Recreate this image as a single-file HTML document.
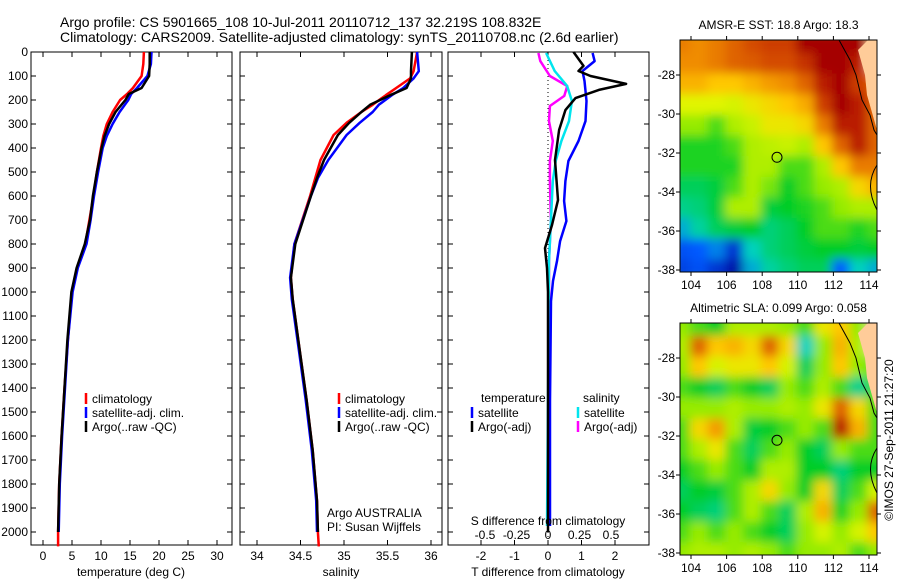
<!DOCTYPE html>
<html><head><meta charset="utf-8"><style>
html,body{margin:0;padding:0;background:#fff;}
svg{display:block;font-family:"Liberation Sans",sans-serif;}
</style></head><body>
<svg id="c" width="900" height="580" xmlns="http://www.w3.org/2000/svg">
<defs>
<filter id="bl1" x="0" y="0" width="1" height="1"><feGaussianBlur stdDeviation="5"/></filter>
<clipPath id="cm1"><rect x="680" y="40" width="197" height="232"/></clipPath>
<clipPath id="cm2"><rect x="680" y="323" width="197" height="232"/></clipPath>
</defs>
<text x="60" y="27" font-size="14">Argo profile: CS 5901665_108 10-Jul-2011 20110712_137 32.219S 108.832E</text>
<text x="60" y="42" font-size="14">Climatology: CARS2009. Satellite-adjusted climatology: synTS_20110708.nc (2.6d earlier)</text>
<g id="g"></g>
</svg>
<script>
// ---------- data ----------
const depthGrid=[0,50,100,150,175,200,250,300,350,400,500,600,700,800,900,1000,1200,1400,1600,1800,2000,2060];
const tempClim=[17.4,17.3,17.0,15.5,14.5,13.3,12.0,11.0,10.4,10.0,9.3,8.7,8.0,7.3,5.9,5.0,4.3,3.7,3.2,2.8,2.6,2.6];
const tempSat=[18.7,18.6,18.0,16.2,15.2,14.7,13.2,12.0,11.0,10.3,9.5,8.8,8.2,7.5,6.0,5.1,4.3,3.8,3.3,2.9,2.7];
const tempArgo=[18.4,18.4,18.3,17.0,14.8,14.2,12.5,11.4,10.6,10.1,9.3,8.6,8.1,7.2,5.8,4.9,4.2,3.7,3.2,2.8,2.6];
const salDepth=[0,80,110,150,180,220,250,295,346,450,525,600,800,940,1030,1240,1450,1660,1870,2000,2060];
const salClim=[35.84,35.8,35.76,35.6,35.48,35.33,35.2,35.03,34.88,34.73,34.67,34.61,34.43,34.39,34.41,34.49,34.57,34.64,34.69,34.70,34.71];
const salSat=[35.84,35.86,35.8,35.68,35.55,35.4,35.33,35.18,35.03,34.82,34.7,34.62,34.43,34.38,34.40,34.48,34.56,34.63,34.68,34.69];
const salArgo=[35.78,35.77,35.77,35.72,35.53,35.3,35.2,35.06,34.93,34.77,34.69,34.62,34.44,34.39,34.41,34.49,34.57,34.64,34.69,34.70];
const tdArgoDepth=[0,58,79,100,133,158,192,242,325,450,617,721,817,900,1000,1500,2000];
const tdArgo=[0.76,1.06,0.91,1.27,2.33,1.52,0.82,0.52,0.33,0.21,0.30,0.12,-0.09,-0.03,0,0,0];
const tdSatDepth=[4,38,79,121,204,288,371,454,538,621,704,788,871,954,1038,1454,1975];
const tdSat=[1.33,1.39,1.03,1.09,1.15,1.12,0.91,0.61,0.52,0.48,0.55,0.36,0.27,0.15,0.09,0.06,0.06];
const sdSatDepth=[4,79,142,204,288,371,454,538,704,871,1454,1975];
const sdSat=[-0.015,0.053,0.152,0.19,0.167,0.106,0.061,0.038,0.023,0.008,0,-0.008];
const sdArgoDepth=[4,38,100,142,183,225,288,371,454,538,704,871,1454,1975];
const sdArgo=[-0.076,-0.061,0.015,0.152,0.129,0.015,0.008,0.038,0.015,0.015,0.023,0.008,0.008,0.008];
const depthTicks=[0,100,200,300,400,500,600,700,800,900,1000,1100,1200,1300,1400,1500,1600,1700,1800,1900,2000];
const tempTicks=[0,5,10,15,20,25,30];
const salTicks=[34,34.5,35,35.5,36];
const tdTicks=[-2,-1,0,1,2];
const sdTicks=[-0.5,-0.25,0,0.25,0.5];
const sdTickLabels=["-0.5","-0.25","0","0.25","0.5"];
const latTicks=[-28,-30,-32,-34,-36,-38];
const lonTicks=[104,106,108,110,112,114];
const sstGrid=[
[.82,.8,.82,.85,.88,.9,.9,1,1,1,1,-1],
[.8,.8,.82,.85,.86,.88,.88,.92,1,1,.95,-1],
[.75,.75,.72,.72,.75,.78,.8,.85,.95,1,.9,.85],
[.66,.66,.66,.65,.68,.7,.72,.76,.9,1,.95,.85],
[.6,.6,.55,.62,.64,.68,.68,.7,.82,.95,.95,.85],
[.52,.52,.52,.55,.62,.63,.64,.62,.72,.85,.95,.85],
[.52,.52,.52,.52,.62,.62,.55,.55,.62,.72,.82,.82],
[.45,.45,.48,.55,.62,.58,.5,.55,.6,.62,.7,.75],
[.4,.42,.48,.62,.62,.48,.5,.52,.55,.6,.62,.62],
[.3,.38,.45,.48,.5,.42,.45,.5,.55,.55,.52,.55],
[.18,.2,.25,.12,.35,.42,.45,.48,.5,.5,.48,.5],
[.15,.18,.12,.05,.3,.38,.42,.45,.45,.2,.35,.3]];
const slaGrid=[
[.6,.55,.5,.62,.62,.62,.6,.55,.68,.72,.6,-1],
[.62,.85,.72,.75,.7,.85,.7,.35,.6,.75,.62,-1],
[.6,.72,.65,.68,.68,.72,.65,.45,.6,.72,.6,.55],
[.55,.5,.45,.55,.5,.45,.6,.55,.62,.55,.4,.55],
[.6,.6,.6,.62,.6,.6,.62,.6,.68,.85,.7,.55],
[.55,.7,.78,.62,.48,.5,.55,.6,.55,.95,.75,.55],
[.55,.62,.68,.55,.45,.55,.6,.5,.45,.6,.55,.55],
[.5,.55,.6,.55,.5,.62,.62,.5,.5,.42,.5,.5],
[.45,.5,.48,.55,.62,.7,.6,.5,.7,.45,.55,.65],
[.5,.45,.42,.55,.62,.55,.45,.62,.75,.52,.6,.85],
[.55,.6,.55,.6,.55,.5,.45,.6,.65,.6,.65,.72],
[.6,.62,.62,.6,.62,.6,.55,.6,.6,.62,.55,.6]];
const argoLon=108.832, argoLat=-32.219;

// ---------- helpers ----------
const NS="http://www.w3.org/2000/svg";
const G=document.getElementById('g');
function mk(tag,attrs,parent){const e=document.createElementNS(NS,tag);for(const k in attrs)e.setAttribute(k,attrs[k]);(parent||G).appendChild(e);return e;}
function txt(x,y,s,size,anchor,parent){const t=mk('text',{x:x,y:y,'font-size':size||12,'text-anchor':anchor||'start'},parent);t.textContent=s;return t;}
const yD=d=>52+d*0.24;
function line(xs,ds,xf,color,w,name){
  const pts=xs.map((v,i)=>xf(v).toFixed(1)+','+yD(ds[i]).toFixed(1)).join(' ');
  const p=mk('polyline',{points:pts,fill:'none',stroke:color,'stroke-width':w||2.5,'stroke-linejoin':'round'});
  
  
}
function frame(x0,x1,name){
  const r=mk('rect',{x:x0,y:52,width:x1-x0,height:493,fill:'none',stroke:'#000','stroke-width':1});
  
  
  depthTicks.forEach(d=>{const y=yD(d);mk('line',{x1:x0,y1:y,x2:x0+5,y2:y,stroke:'#000'});mk('line',{x1:x1,y1:y,x2:x1-5,y2:y,stroke:'#000'});});
}
function xticks(x0,x1,ticks,xf,labels,name){
  ticks.forEach((t,i)=>{const x=xf(t);mk('line',{x1:x,y1:545,x2:x,y2:540,stroke:'#000'});mk('line',{x1:x,y1:52,x2:x,y2:57,stroke:'#000'});
    if(labels){const l=txt(x,560,labels[i],12,'middle');}});
}
function legendEntry(x,y,color,label){
  mk('line',{x1:x,y1:y-10,x2:x,y2:y+1,stroke:color,'stroke-width':2.5});
  const t=txt(x+6,y,label,12);
  
  
}

// ---------- panel 1: temperature ----------
const xT=t=>43+t*5.8;
frame(31,232,'temperature-panel');
depthTicks.forEach(d=>{const l=txt(28,yD(d)+4,String(d),12,'end');});
xticks(31,232,tempTicks,xT,tempTicks.map(String),'temperature');
line(tempClim,depthGrid,xT,'#ff0000',2.5,'temp-climatology-line');
line(tempSat,depthGrid.slice(0,tempSat.length),xT,'#0000ff',2.5,'temp-satellite-line');
line(tempArgo,depthGrid.slice(0,tempArgo.length),xT,'#000000',2.5,'temp-argo-line');
let a=txt(131,576,'temperature (deg C)',12,'middle');
legendEntry(86,403,'#ff0000','climatology');
legendEntry(86,417,'#0000ff','satellite-adj. clim.');
legendEntry(86,431,'#000000','Argo(..raw -QC)');

// ---------- panel 2: salinity ----------
const xS=s=>257+(s-34)*87;
frame(240,442,'salinity-panel');
xticks(240,442,salTicks,xS,['34','34.5','35','35.5','36'],'salinity');
line(salClim,salDepth,xS,'#ff0000',2.5,'sal-climatology-line');
line(salSat,salDepth.slice(0,salSat.length),xS,'#0000ff',2.5,'sal-satellite-line');
line(salArgo,salDepth.slice(0,salArgo.length),xS,'#000000',2.5,'sal-argo-line');
a=txt(341,576,'salinity',12,'middle');
legendEntry(339,403,'#ff0000','climatology');
legendEntry(339,417,'#0000ff','satellite-adj. clim.');
legendEntry(339,431,'#000000','Argo(..raw -QC)');
a=txt(327,517,'Argo AUSTRALIA',12);
a=txt(327,531,'PI: Susan Wijffels',12);

// ---------- panel 3: differences ----------
const xTD=d=>548+d*33.5;
const xSD=s=>548+s*126;
frame(448,649,'difference-panel');
xticks(448,649,tdTicks,xTD,tdTicks.map(String),'t-diff');
sdTicks.forEach((s,i)=>{const l=txt(xSD(s),539,sdTickLabels[i],12,'middle');});
mk('line',{x1:xTD(0),y1:52,x2:xTD(0),y2:545,stroke:'#000','stroke-dasharray':'1,3'});
line(sdArgo,sdArgoDepth,xSD,'#ff00ff',2.5,'s-diff-argo-line');
line(sdSat,sdSatDepth,xSD,'#00e5ee',2.5,'s-diff-satellite-line');
line(tdSat,tdSatDepth,xTD,'#0000ff',2.5,'t-diff-satellite-line');
line(tdArgo,tdArgoDepth,xTD,'#000000',2.5,'t-diff-argo-line');
a=txt(481,402,'temperature',12);
a=txt(583,402,'salinity',12);
legendEntry(472,417,'#0000ff','satellite');
legendEntry(472,431,'#000000','Argo(-adj)');
legendEntry(578,417,'#00e5ee','satellite');
legendEntry(578,431,'#ff00ff','Argo(-adj)');
a=txt(548,525,'S difference from climatology',12,'middle');
a=txt(548,576,'T difference from climatology',12,'middle');

// ---------- maps ----------
function jet(v){
  const stops=[[0,[0,0,140]],[0.2,[0,90,255]],[0.35,[0,210,190]],[0.5,[0,205,40]],[0.6,[150,235,0]],[0.66,[225,245,0]],[0.72,[255,200,0]],[0.8,[240,140,0]],[0.9,[205,60,0]],[1,[165,0,0]]];
  for(let i=1;i<stops.length;i++){if(v<=stops[i][0]){const [a0,c0]=stops[i-1],[a1,c1]=stops[i];const f=(v-a0)/(a1-a0);return 'rgb('+c0.map((c,k)=>Math.round(c+(c1[k]-c0[k])*f)).join(',')+')';}}
  return 'rgb(165,0,0)';
}
function drawMap(y0,grid,title,name){
  const x0=680,w=197,h=232;
  const lonX=l=>691+(l-104)*17.8;
  const latY=l=>y0+35+(-28-l)*19.5;
  const grp=mk('g',{'clip-path':'url(#cm'+(y0<100?1:2)+')'});
  
  
  mk('rect',{x:x0,y:y0,width:w,height:h,fill:jet(grid[5][5])},grp);
  const inner=mk('g',{filter:'url(#bl1)'},grp);
  const nr=grid.length,nc=grid[0].length,cw=(w+16)/nc,ch=(h+16)/nr;
  grid.forEach((row,r)=>row.forEach((v,c)=>{
    const cell=mk('rect',{x:(x0-8+c*cw).toFixed(1),y:(y0-8+r*ch).toFixed(1),width:(cw+0.6).toFixed(1),height:(ch+0.6).toFixed(1),fill:v<0?'#ffcc99':jet(v)},inner);
    
    
  }));
  const land=mk('path',{d:`M${x0+w} ${y0} L${x0+188} ${y0} L${x0+178} ${y0+10} L${x0+185} ${y0+35} L${x0+187} ${y0+55} L${x0+197} ${y0+90} Z`,fill:'#ffcc99',stroke:'none'},grp);
  
  const coast=mk('polyline',{points:`${x0+159},${y0} ${x0+170},${y0+20} ${x0+176},${y0+35} ${x0+182},${y0+60} ${x0+190},${y0+75} ${x0+194},${y0+90} ${x0+197},${y0+95}`,fill:'none',stroke:'#000','stroke-width':1},grp);
  
  mk('path',{d:`M${x0+197} ${y0+125} Q${x0+184} ${y0+145} ${x0+197} ${y0+170}`,fill:'none',stroke:'#000'},grp);
  const fr=mk('rect',{x:x0,y:y0,width:w,height:h,fill:'none',stroke:'#000'});
  
  latTicks.forEach(l=>{const y=latY(l);mk('line',{x1:x0-4,y1:y,x2:x0,y2:y,stroke:'#000'});mk('line',{x1:x0+w,y1:y,x2:x0+w+4,y2:y,stroke:'#000'});
    const t=txt(x0-5,y+4,String(l),12,'end');});
  lonTicks.forEach(l=>{const x=lonX(l);mk('line',{x1:x,y1:y0+h,x2:x,y2:y0+h+4,stroke:'#000'});mk('line',{x1:x,y1:y0-4,x2:x,y2:y0,stroke:'#000'});
    const t=txt(x,y0+h+17,String(l),12,'middle');});
  const m=mk('circle',{cx:lonX(argoLon),cy:latY(argoLat),r:5,fill:'none',stroke:'#000','stroke-width':1});
  
  const tt=txt(x0+w/2,y0-11,title,12,'middle');
}
drawMap(40,sstGrid,'AMSR-E SST: 18.8 Argo: 18.3','sst-map');
drawMap(323,slaGrid,'Altimetric SLA: 0.099 Argo: 0.058','sla-map');
const cr=txt(0,0,'©IMOS 27-Sep-2011 21:27:20',12,'middle');
cr.setAttribute('transform','translate(893,440) rotate(-90)');


</script>
</body></html>
